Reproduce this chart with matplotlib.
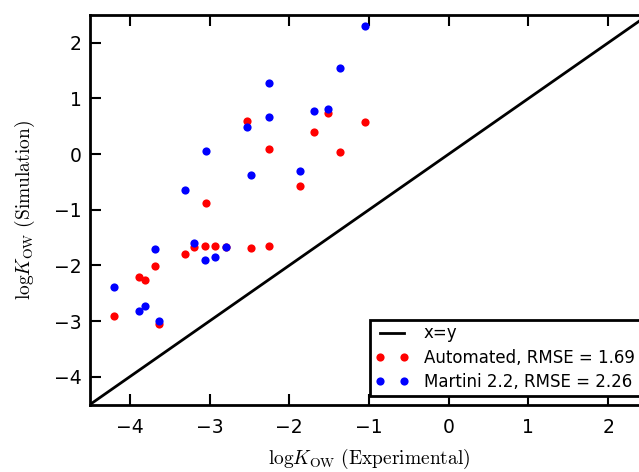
import matplotlib
matplotlib.use("Agg")
import matplotlib.pyplot as plt

# Experimental logKow
exp_x = [-4.195, -3.88, -3.81, -3.68, -3.63, -3.31, -3.20, -3.045, -3.06, -2.93,
         -2.79, -2.53, -2.48, -2.25, -2.25, -1.865, -1.69, -1.51, -1.37, -1.05]
# Automated simulation logKow
auto_y = [-2.91, -2.20, -2.27, -2.01, -3.05, -1.79, -1.67, -0.88, -1.66, -1.66,
          -1.67, 0.59, -1.69, 0.09, -1.66, -0.57, 0.39, 0.73, 0.03, 0.58]
# Martini 2.2 simulation logKow
martini_y = [-2.38, -2.82, -2.73, -1.71, -3.00, -0.64, -1.59, 0.06, -1.90, -1.85,
             -1.67, 0.49, -0.37, 1.27, 0.66, -0.30, 0.78, 0.81, 1.55, 2.30]

diag = [-4.5, 2.5]
xticks = [-4, -3, -2, -1, 0, 1, 2]
yticks = [-4, -3, -2, -1, 0, 1, 2]

plt.rcParams['mathtext.fontset'] = 'cm'
fig = plt.figure(figsize=(6.39, 4.72), dpi=100)
ax = fig.add_axes([90/639, (472-404.5)/472, 558/639, 389.5/472])

ax.plot(diag, diag, color='black', lw=2, label='x=y')
ax.plot(exp_x, auto_y, 'o', color='red', ms=5.9, mew=0, label='Automated, RMSE = 1.69')
ax.plot(exp_x, martini_y, 'o', color='blue', ms=5.9, mew=0, label='Martini 2.2, RMSE = 2.26')

ax.set_xlim(-4.5, 2.5)
ax.set_ylim(-4.5, 2.5)
ax.set_xticks(xticks)
ax.set_yticks(yticks)
ax.tick_params(direction='in', length=8, width=1.5, top=True, right=False, labelsize=13.5)
ax.tick_params(axis='x', pad=10)
ax.tick_params(axis='y', pad=6)
for s in ax.spines.values():
    s.set_linewidth(2)

ax.set_xlabel(r'$\mathrm{log}K_{\mathrm{OW}}\ \mathrm{(Experimental)}$', fontsize=14, labelpad=7)
ax.set_ylabel(r'$\mathrm{log}K_{\mathrm{OW}}\ \mathrm{(Simulation)}$', fontsize=14, labelpad=12)

leg = ax.legend(loc='lower right', numpoints=2, fontsize=12, fancybox=False,
                framealpha=1, edgecolor='black', borderpad=0.3, labelspacing=0.38,
                handletextpad=0.87, handlelength=2.07, borderaxespad=0.5)
leg.get_frame().set_linewidth(2)

fig.savefig('out.png', dpi=100)
